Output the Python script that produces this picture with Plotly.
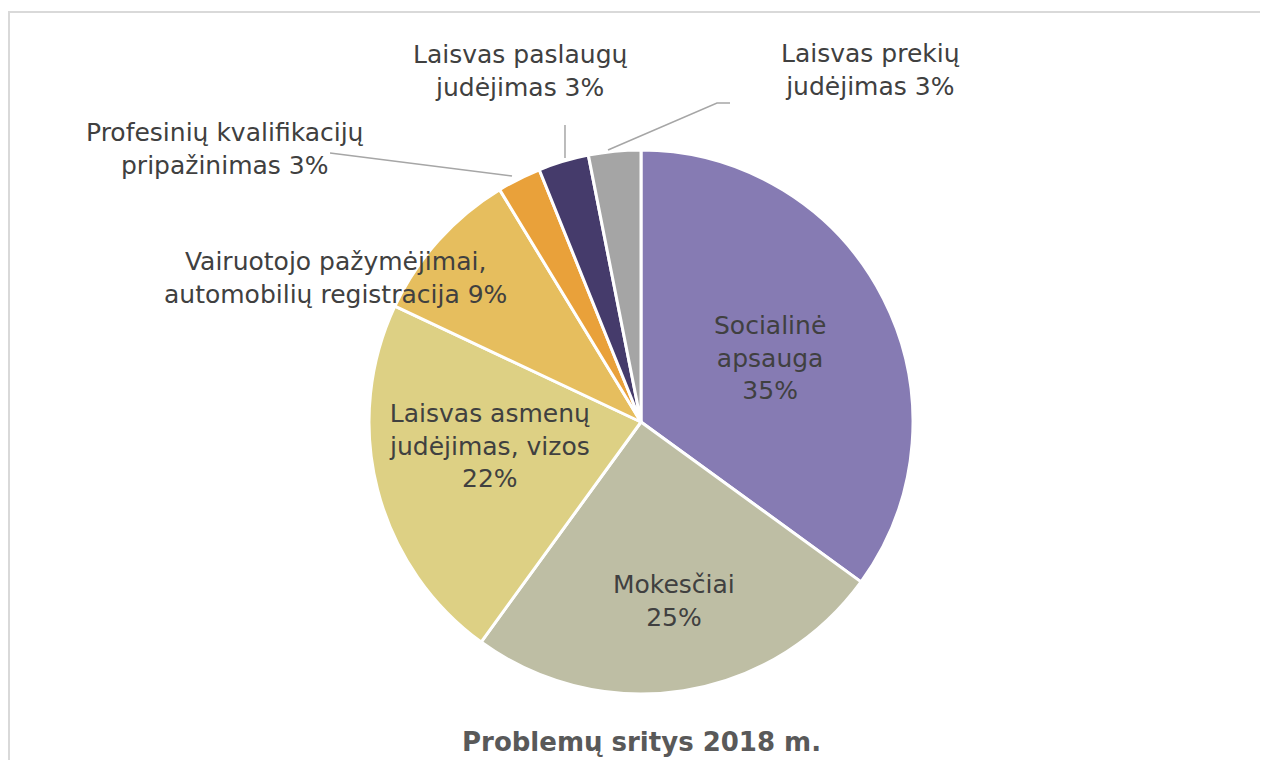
import plotly.graph_objects as go

categories = [
    "Socialinė apsauga",
    "Mokesčiai",
    "Laisvas asmenų judėjimas, vizos",
    "Vairuotojo pažymėjimai, automobilių registracija",
    "Profesinių kvalifikacijų pripažinimas",
    "Laisvas paslaugų judėjimas",
    "Laisvas prekių judėjimas",
]
values = [35, 25, 22, 9.3, 2.6, 3, 3.1]
pct_labels = ["35%", "25%", "22%", "9%", "3%", "3%", "3%"]
colors = ["#867BB3", "#BEBEA4", "#DDD084", "#E6BE5E", "#E9A13A", "#453B6B", "#A5A5A5"]
title_text = "Problemų sritys 2018 m."

# figure is drawn at an 8px page offset (body margin), so size it to fill the window
OFF = 8
W, H = 1268 - OFF, 760 - OFF
FONT = "Century Gothic, DejaVu Sans, sans-serif"
TXT = "#404040"


def px(x, y):
    """page pixel -> paper coordinates"""
    return (x - OFF) / W, 1 - (y - OFF) / H


cx, cy, R = 641, 422, 272
dx0, _ = px(cx - R, 0)
dx1, _ = px(cx + R, 0)
_, dy0 = px(0, cy + R)
_, dy1 = px(0, cy - R)

fig = go.Figure(go.Pie(
    labels=categories,
    values=values,
    sort=False,
    direction="clockwise",
    rotation=0,
    marker=dict(colors=colors, line=dict(color="white", width=3)),
    textinfo="none",
    hoverinfo="label+percent",
    showlegend=False,
    domain=dict(x=[dx0, dx1], y=[dy0, dy1]),
))

label_specs = [
    ("Socialinė<br>apsauga<br>" + pct_labels[0], 770, 358),
    ("Mokesčiai<br>" + pct_labels[1], 674, 601),
    ("Laisvas asmenų<br>judėjimas, vizos<br>" + pct_labels[2], 490, 446),
    ("Vairuotojo pažymėjimai,<br>automobilių registracija " + pct_labels[3], 335, 278),
    ("Profesinių kvalifikacijų<br>pripažinimas " + pct_labels[4], 225, 149),
    ("Laisvas paslaugų<br>judėjimas " + pct_labels[5], 520, 71),
    ("Laisvas prekių<br>judėjimas " + pct_labels[6], 870, 70),
]
annotations = []
for txt, x, y in label_specs:
    ax, ay = px(x, y)
    annotations.append(dict(
        text=txt, x=ax, y=ay, xref="paper", yref="paper", showarrow=False,
        xanchor="center", yanchor="middle", align="center",
        font=dict(family=FONT, size=25, color=TXT),
    ))
tx, ty = px(641, 742)
annotations.append(dict(
    text="<b>" + title_text + "</b>", x=tx, y=ty, xref="paper", yref="paper",
    showarrow=False, xanchor="center", yanchor="middle",
    font=dict(family=FONT, size=26, color="#595959"),
))

shapes = []
leaders = [
    [(330, 153), (512, 176)],
    [(565, 125), (565, 158)],
    [(730, 103), (717, 103), (608, 150)],
]
for pts in leaders:
    path = "M " + " L ".join(
        f"{px(x, y)[0]:.5f},{px(x, y)[1]:.5f}" for x, y in pts)
    shapes.append(dict(type="path", path=path, xref="paper", yref="paper",
                       line=dict(color="#A6A6A6", width=1.5)))
bx0, by0 = px(9, 12)
bx1, by1 = px(1300, 800)
shapes.append(dict(type="rect", xref="paper", yref="paper", x0=bx0, y0=by1, x1=bx1, y1=by0,
                   line=dict(color="#D9D9D9", width=2), fillcolor="rgba(0,0,0,0)", layer="below"))

fig.update_layout(
    width=W, height=H,
    margin=dict(l=0, r=0, t=0, b=0),
    paper_bgcolor="white",
    plot_bgcolor="white",
    annotations=annotations,
    shapes=shapes,
)

fig.write_html("out.html")
